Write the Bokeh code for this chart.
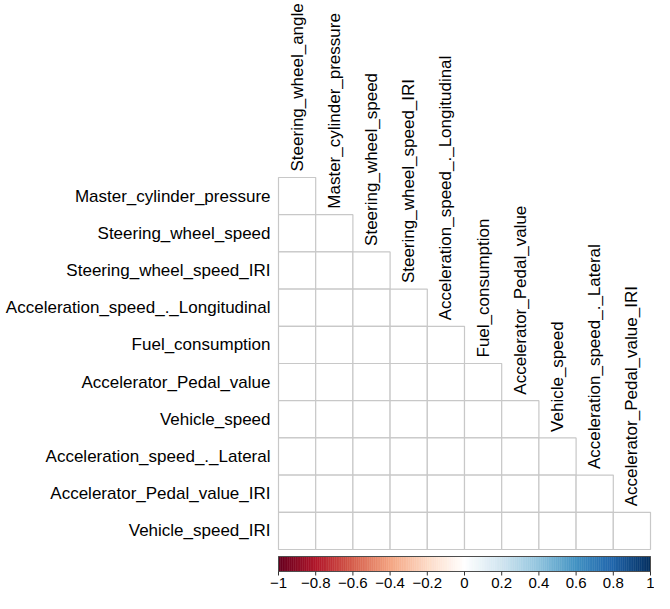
import numpy as np
from bokeh.plotting import figure
from bokeh.models import Range1d
from bokeh.core.properties import value
from bokeh.embed import file_html
from bokeh.resources import INLINE

# ---- data ----
col_labels = ["Steering_wheel_angle", "Master_cylinder_pressure", "Steering_wheel_speed",
              "Steering_wheel_speed_IRI", "Acceleration_speed_._Longitudinal", "Fuel_consumption",
              "Accelerator_Pedal_value", "Vehicle_speed", "Acceleration_speed_._Lateral",
              "Accelerator_Pedal_value_IRI"]
row_labels = ["Master_cylinder_pressure", "Steering_wheel_speed", "Steering_wheel_speed_IRI",
              "Acceleration_speed_._Longitudinal", "Fuel_consumption", "Accelerator_Pedal_value",
              "Vehicle_speed", "Acceleration_speed_._Lateral", "Accelerator_Pedal_value_IRI",
              "Vehicle_speed_IRI"]
tick_values = [-1, -0.8, -0.6, -0.4, -0.2, 0, 0.2, 0.4, 0.6, 0.8, 1]
tick_labels = ["\u22121", "\u22120.8", "\u22120.6", "\u22120.4", "\u22120.2", "0",
               "0.2", "0.4", "0.6", "0.8", "1"]
anchor_colors = ["#67001F", "#B2182B", "#D6604D", "#F4A582", "#FDDBC7", "#FFFFFF",
                 "#D1E5F0", "#92C5DE", "#4393C3", "#2166AC", "#053061"]

# ---- layout ----
W, H = 654, 593
CELL = 37.2
GL, GT = 278, 177
n = len(col_labels)
FONT = value("Liberation Sans")
LABEL_SIZE = "17px"

x0 = 0.5 - GL / CELL
y1 = (n + 0.5) + GT / CELL
p = figure(width=W, height=H, x_range=Range1d(x0, x0 + W / CELL),
           y_range=Range1d(y1 - H / CELL, y1), output_backend="svg",
           toolbar_location=None, min_border=0, x_axis_type=None, y_axis_type=None)
p.grid.visible = False
p.outline_line_color = None
p.background_fill_color = "white"

# pixel-like y range (top = 0) and colour-bar x range
p.extra_y_ranges = {"px": Range1d(H, 0)}
cb_ppu = CELL * n / (tick_values[-1] - tick_values[0])
cb0 = tick_values[0] - GL / cb_ppu
p.extra_x_ranges = {"cb": Range1d(cb0, cb0 + W / cb_ppu)}

# ---- cells (lower triangle) ----
xs, ys = [], []
for i in range(len(row_labels)):
    for j in range(i + 1):
        xs.append(j + 1)
        ys.append(n - i)
p.rect(x=xs, y=ys, width=1, height=1, fill_color="white",
       line_color="#c8c8c8", line_width=1.2)

# row labels
p.text(x=[0.5] * n, y=[n - i for i in range(n)], text=row_labels, x_offset=-8,
       text_align="right", text_baseline="middle", text_font=FONT,
       text_font_size=LABEL_SIZE, text_color="black")

# column labels
p.text(x=[j + 1 for j in range(n)], y=[n + 0.5 - j for j in range(n)], text=col_labels,
       y_offset=-6, angle=np.pi / 2, text_align="left", text_baseline="middle",
       text_font=FONT, text_font_size=LABEL_SIZE, text_color="black")

# ---- colour bar ----
def interp_palette(anchors, m):
    rgb = np.array([[int(c[k:k + 2], 16) for k in (1, 3, 5)] for c in anchors], float)
    pos = np.linspace(0, 1, len(anchors))
    t = np.linspace(0, 1, m)
    out = np.stack([np.interp(t, pos, rgb[:, k]) for k in range(3)], axis=1)
    return ["#%02x%02x%02x" % tuple(int(round(v)) for v in row) for row in out]

NCOL = 200
palette = interp_palette(anchor_colors, NCOL)
edges = np.linspace(tick_values[0], tick_values[-1], NCOL + 1)
CB_TOP, CB_BOT = 556, 571
p.quad(left=edges[:-1], right=edges[1:], top=CB_TOP, bottom=CB_BOT,
       fill_color=palette, line_color=palette, line_width=0.5,
       x_range_name="cb", y_range_name="px")
p.quad(left=tick_values[0], right=tick_values[-1], top=CB_TOP, bottom=CB_BOT,
       fill_color=None, line_color="#4d4d4d", line_width=1,
       x_range_name="cb", y_range_name="px")
p.segment(x0=tick_values, x1=tick_values, y0=[CB_BOT] * len(tick_values),
          y1=[CB_BOT + 4] * len(tick_values), line_color="#333333", line_width=1,
          x_range_name="cb", y_range_name="px")
p.text(x=tick_values, y=[CB_BOT + 6] * len(tick_values), text=tick_labels,
       text_align="center", text_baseline="top", text_font=FONT,
       text_font_size="15px", text_color="black",
       x_range_name="cb", y_range_name="px")

open("out.html", "w").write(file_html(p, INLINE))
